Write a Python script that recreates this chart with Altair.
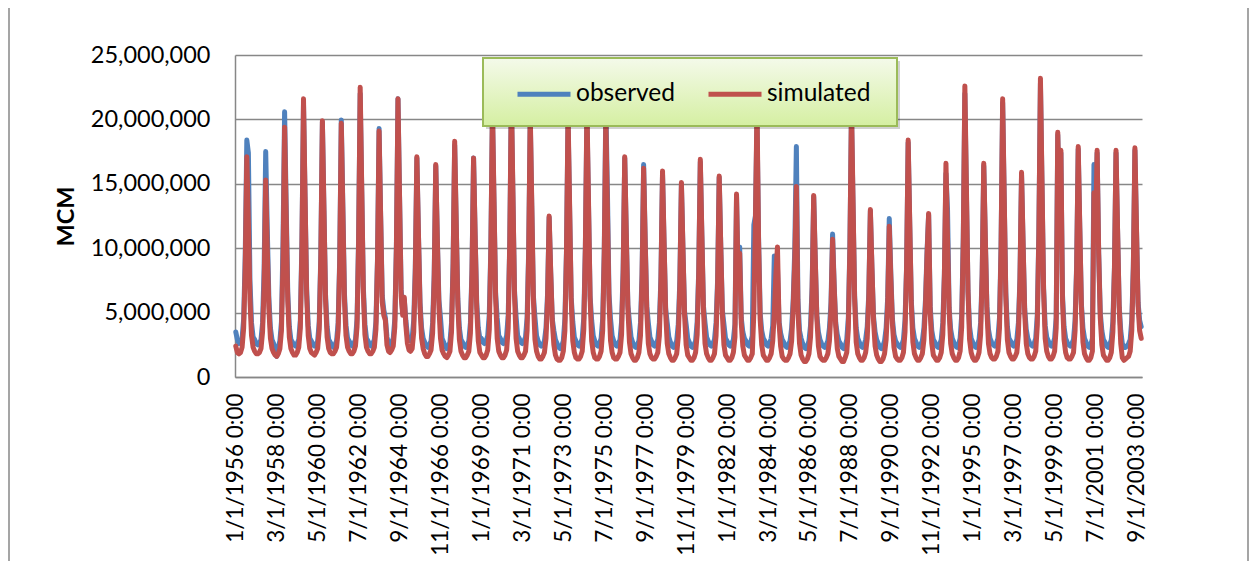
import altair as alt
import pandas as pd

FONT = "Lato"
START_YEAR = 1956

# Monthly volumes, millions (Jan..Dec), one row per year 1956-2003
observed_mcm = [
    [3.5, 2.9, 2.6, 2.7, 3.0, 4.5, 9.5, 18.4, 17.4, 7.5, 4.2, 3.1],
    [2.9, 2.6, 2.5, 2.6, 2.9, 4.2, 8.5, 17.5, 11.5, 6.2, 3.8, 2.9],
    [2.6, 2.2, 1.6, 2.3, 2.8, 4.3, 10.5, 20.6, 13.4, 6.6, 3.9, 2.9],
    [2.7, 2.5, 2.4, 2.6, 2.9, 4.4, 10.5, 21.2, 13.8, 6.8, 4.0, 3.0],
    [2.8, 2.5, 2.4, 2.5, 2.8, 4.3, 9.5, 19.8, 12.9, 6.4, 3.9, 2.9],
    [2.7, 2.4, 2.3, 2.5, 2.8, 4.2, 9.2, 19.95, 13.2, 6.5, 4.0, 3.0],
    [2.8, 2.5, 2.4, 2.6, 2.9, 4.5, 10.8, 22.0, 14.4, 7.0, 4.1, 3.0],
    [2.8, 2.5, 2.4, 2.6, 2.9, 4.3, 9.2, 19.3, 12.5, 6.3, 5.2, 4.6],
    [3.1, 2.6, 2.5, 2.7, 3.0, 4.5, 10.2, 21.6, 14.0, 6.8, 5.0, 6.0],
    [4.4, 3.2, 2.9, 2.8, 3.0, 4.4, 8.5, 17.0, 11.1, 5.8, 3.8, 3.0],
    [2.7, 2.4, 2.3, 2.5, 2.8, 4.2, 8.0, 16.4, 10.7, 6.0, 4.6, 3.0],
    [2.7, 2.4, 2.2, 2.4, 2.7, 4.2, 8.8, 18.0, 11.8, 6.1, 3.8, 2.9],
    [2.7, 2.4, 2.3, 2.5, 2.8, 4.2, 8.3, 17.0, 11.0, 5.8, 3.8, 3.0],
    [3.0, 2.7, 2.6, 2.8, 3.2, 4.9, 10.2, 20.5, 13.4, 6.5, 4.6, 3.2],
    [3.0, 2.7, 2.6, 2.8, 3.2, 4.8, 10.5, 21.5, 14.0, 6.7, 4.7, 3.2],
    [3.0, 2.7, 2.6, 2.8, 3.1, 4.6, 9.8, 20.0, 13.0, 6.3, 4.6, 3.2],
    [2.8, 2.5, 2.4, 2.5, 2.8, 3.8, 6.5, 12.4, 8.1, 4.5, 3.6, 2.9],
    [2.6, 2.3, 2.2, 2.4, 2.8, 4.5, 9.8, 20.0, 13.0, 6.2, 4.3, 3.1],
    [2.8, 2.5, 2.4, 2.6, 3.0, 4.6, 10.0, 20.5, 13.3, 6.3, 4.4, 3.2],
    [2.8, 2.5, 2.4, 2.6, 3.0, 4.5, 9.8, 21.0, 14.5, 6.5, 4.5, 3.2],
    [2.8, 2.5, 2.4, 2.6, 2.9, 4.3, 8.3, 17.0, 11.1, 5.6, 4.3, 3.1],
    [2.7, 2.4, 2.3, 2.5, 2.8, 4.2, 8.0, 16.5, 10.7, 5.5, 4.2, 3.1],
    [2.8, 2.5, 2.4, 2.6, 2.9, 4.2, 7.8, 15.8, 10.3, 5.3, 4.2, 3.1],
    [2.7, 2.4, 2.3, 2.5, 2.8, 4.1, 7.5, 15.0, 9.8, 5.1, 4.1, 3.0],
    [2.7, 2.4, 2.3, 2.5, 2.8, 4.3, 8.3, 16.7, 10.9, 5.5, 4.2, 3.1],
    [2.8, 2.5, 2.4, 2.6, 2.9, 4.2, 7.6, 15.5, 10.1, 5.2, 4.1, 3.0],
    [2.8, 2.5, 2.4, 2.6, 2.9, 4.1, 14.0, 7.8, 10.1, 4.6, 3.5, 3.0],
    [2.8, 2.5, 2.4, 2.7, 3.2, 11.8, 12.5, 20.0, 10.8, 5.0, 3.6, 3.0],
    [2.8, 2.5, 2.4, 2.6, 3.0, 4.0, 9.4, 9.0, 8.5, 4.3, 3.4, 2.9],
    [2.7, 2.4, 2.3, 2.5, 2.8, 3.8, 6.0, 10.0, 17.9, 6.0, 3.6, 3.0],
    [2.6, 2.3, 2.2, 2.4, 2.8, 4.0, 7.0, 14.0, 9.1, 4.8, 3.5, 2.9],
    [2.6, 2.4, 2.3, 2.5, 2.8, 3.8, 5.8, 11.1, 7.2, 4.2, 3.3, 2.8],
    [2.6, 2.3, 2.2, 2.4, 2.9, 4.6, 10.2, 20.5, 13.3, 6.3, 3.8, 3.0],
    [2.7, 2.4, 2.3, 2.5, 2.9, 3.9, 6.5, 12.9, 8.4, 4.7, 3.5, 2.9],
    [2.6, 2.3, 2.2, 2.4, 2.8, 3.8, 6.2, 12.3, 8.0, 4.5, 3.3, 2.8],
    [2.6, 2.4, 2.3, 2.5, 2.9, 4.4, 8.6, 18.2, 11.8, 5.9, 3.8, 3.0],
    [2.7, 2.4, 2.3, 2.5, 2.8, 3.8, 6.0, 9.8, 12.6, 5.5, 3.6, 2.9],
    [2.7, 2.4, 2.3, 2.5, 2.9, 4.2, 8.0, 15.8, 13.0, 5.4, 3.7, 3.0],
    [2.7, 2.4, 2.3, 2.5, 3.0, 4.8, 10.8, 22.0, 14.3, 6.7, 3.9, 3.0],
    [2.7, 2.4, 2.3, 2.5, 2.9, 4.2, 8.0, 16.4, 10.7, 5.5, 3.7, 3.0],
    [2.7, 2.5, 2.4, 2.6, 3.0, 4.6, 10.2, 21.3, 13.8, 6.6, 3.9, 3.0],
    [2.8, 2.5, 2.4, 2.6, 2.9, 4.2, 7.7, 15.7, 10.2, 5.3, 3.7, 3.0],
    [2.7, 2.5, 2.4, 2.6, 3.0, 4.8, 11.2, 22.8, 14.8, 6.9, 4.0, 3.1],
    [2.8, 2.5, 2.4, 2.6, 3.0, 4.6, 18.8, 13.2, 17.4, 6.4, 3.9, 3.0],
    [2.7, 2.5, 2.4, 2.6, 2.9, 4.4, 8.7, 17.7, 11.5, 5.7, 3.8, 3.0],
    [2.7, 2.4, 2.3, 2.5, 3.0, 16.5, 11.5, 17.4, 9.6, 5.0, 3.6, 2.9],
    [2.7, 2.4, 2.3, 2.5, 2.9, 4.3, 8.5, 17.4, 11.3, 5.6, 3.6, 2.6],
    [2.3, 2.3, 2.4, 2.6, 2.9, 4.4, 8.6, 17.6, 11.4, 5.8, 4.4, 3.9],
]

simulated_mcm = [
    [2.4, 1.9, 1.8, 1.9, 2.3, 3.8, 8.5, 17.1, 12.0, 6.0, 3.2, 2.3],
    [2.0, 1.8, 1.8, 1.9, 2.2, 3.5, 7.0, 15.3, 10.0, 5.3, 3.0, 2.2],
    [1.9, 1.7, 1.6, 1.8, 2.2, 3.6, 9.0, 19.4, 12.6, 5.9, 3.1, 2.2],
    [1.9, 1.7, 1.7, 1.9, 2.3, 3.8, 10.0, 21.6, 14.0, 6.4, 3.2, 2.2],
    [1.9, 1.8, 1.7, 1.9, 2.2, 3.7, 9.2, 19.9, 12.9, 6.0, 3.1, 2.2],
    [1.9, 1.8, 1.8, 2.0, 2.3, 3.6, 8.8, 19.7, 12.8, 6.0, 3.2, 2.3],
    [2.0, 1.8, 1.8, 2.0, 2.4, 3.9, 10.5, 22.5, 14.6, 6.6, 3.3, 2.3],
    [2.0, 1.8, 1.8, 2.0, 2.3, 3.7, 9.0, 19.1, 12.4, 5.8, 4.8, 4.4],
    [2.5, 2.0, 1.9, 2.1, 2.4, 3.9, 10.0, 21.6, 14.0, 6.3, 4.8, 6.2],
    [4.0, 2.6, 2.1, 2.0, 2.2, 3.5, 8.0, 17.1, 11.1, 5.4, 3.0, 2.2],
    [1.8, 1.6, 1.6, 1.8, 2.1, 3.4, 7.5, 16.5, 10.7, 5.4, 3.0, 2.1],
    [1.8, 1.6, 1.5, 1.7, 2.0, 3.5, 8.5, 18.3, 11.9, 5.6, 2.9, 2.0],
    [1.7, 1.5, 1.5, 1.7, 2.0, 3.4, 8.0, 17.0, 11.0, 5.3, 2.8, 1.9],
    [1.7, 1.5, 1.5, 1.7, 2.1, 3.7, 10.0, 21.0, 13.6, 6.2, 3.0, 2.0],
    [1.7, 1.5, 1.5, 1.7, 2.1, 3.8, 10.5, 22.0, 14.3, 6.4, 3.0, 2.0],
    [1.7, 1.5, 1.5, 1.7, 2.0, 3.6, 9.5, 20.5, 13.3, 6.0, 2.9, 2.0],
    [1.6, 1.4, 1.4, 1.6, 1.9, 3.0, 6.0, 12.5, 8.1, 4.3, 2.5, 1.7],
    [1.4, 1.3, 1.3, 1.5, 2.0, 3.6, 9.5, 20.5, 13.3, 6.0, 2.8, 1.9],
    [1.5, 1.4, 1.4, 1.6, 2.0, 3.7, 10.0, 21.0, 13.6, 6.1, 2.8, 1.9],
    [1.5, 1.4, 1.4, 1.6, 2.0, 3.6, 9.5, 20.0, 13.0, 5.9, 2.8, 1.9],
    [1.5, 1.4, 1.4, 1.6, 1.9, 3.3, 8.0, 17.1, 11.1, 5.3, 2.7, 1.8],
    [1.5, 1.3, 1.3, 1.5, 1.9, 3.2, 7.5, 16.2, 10.5, 5.1, 2.6, 1.8],
    [1.5, 1.4, 1.4, 1.6, 1.9, 3.2, 7.4, 16.0, 10.4, 5.0, 2.6, 1.8],
    [1.5, 1.3, 1.3, 1.5, 1.8, 3.1, 7.0, 15.1, 9.8, 4.8, 2.5, 1.7],
    [1.5, 1.3, 1.3, 1.5, 1.9, 3.3, 8.0, 16.9, 11.0, 5.2, 2.6, 1.8],
    [1.5, 1.3, 1.3, 1.5, 1.8, 3.2, 7.2, 15.6, 10.1, 4.9, 2.5, 1.7],
    [1.5, 1.3, 1.3, 1.5, 1.9, 3.1, 14.2, 7.5, 9.6, 4.2, 2.4, 1.7],
    [1.5, 1.3, 1.3, 1.5, 1.8, 5.0, 12.0, 21.0, 10.5, 4.5, 2.5, 1.7],
    [1.5, 1.3, 1.3, 1.5, 1.8, 2.8, 5.0, 8.0, 10.1, 4.2, 2.4, 1.6],
    [1.4, 1.3, 1.3, 1.5, 1.8, 2.8, 5.5, 9.0, 14.8, 5.2, 2.6, 1.7],
    [1.4, 1.2, 1.2, 1.4, 1.8, 3.1, 6.5, 14.1, 9.2, 4.6, 2.4, 1.6],
    [1.4, 1.3, 1.3, 1.5, 1.8, 2.8, 5.2, 10.7, 7.0, 3.9, 2.2, 1.6],
    [1.4, 1.2, 1.2, 1.5, 1.9, 3.7, 10.0, 21.0, 13.6, 6.1, 2.7, 1.8],
    [1.5, 1.3, 1.3, 1.5, 1.9, 3.0, 6.2, 13.0, 8.5, 4.4, 2.4, 1.7],
    [1.4, 1.2, 1.2, 1.4, 1.8, 2.9, 5.6, 11.7, 7.6, 4.1, 2.3, 1.6],
    [1.4, 1.3, 1.3, 1.5, 1.9, 3.5, 8.5, 18.4, 12.0, 5.6, 2.7, 1.8],
    [1.5, 1.3, 1.3, 1.5, 1.8, 2.9, 5.5, 9.5, 12.7, 5.0, 2.6, 1.7],
    [1.5, 1.3, 1.3, 1.5, 1.9, 3.3, 7.8, 16.6, 10.8, 5.2, 2.6, 1.8],
    [1.5, 1.3, 1.3, 1.5, 2.0, 3.9, 10.5, 22.6, 14.7, 6.6, 2.9, 1.9],
    [1.5, 1.3, 1.3, 1.5, 1.9, 3.3, 7.8, 16.6, 10.8, 5.2, 2.6, 1.8],
    [1.5, 1.4, 1.4, 1.6, 2.0, 3.8, 10.0, 21.6, 14.0, 6.3, 2.9, 1.9],
    [1.6, 1.4, 1.4, 1.6, 1.9, 3.3, 7.5, 15.9, 10.3, 5.0, 2.6, 1.8],
    [1.5, 1.4, 1.4, 1.6, 2.0, 4.0, 11.0, 23.2, 15.1, 6.8, 3.0, 2.0],
    [1.6, 1.4, 1.4, 1.6, 2.0, 3.8, 19.0, 13.0, 17.6, 6.0, 2.9, 1.9],
    [1.5, 1.4, 1.4, 1.6, 1.9, 3.6, 8.5, 17.9, 11.6, 5.5, 2.7, 1.8],
    [1.5, 1.3, 1.3, 1.5, 2.0, 14.3, 11.0, 17.6, 9.5, 4.6, 2.5, 1.7],
    [1.5, 1.3, 1.3, 1.5, 1.9, 3.5, 8.3, 17.6, 11.4, 5.4, 2.6, 1.5],
    [1.3, 1.4, 1.5, 1.6, 2.0, 3.6, 8.4, 17.8, 11.6, 5.5, 3.6, 3.0],
]

series_names = ["observed", "simulated"]
series_colors = ["#4F81BD", "#C0504D"]
y_ticks = [0, 5000000, 10000000, 15000000, 20000000, 25000000]
n_months = 12 * len(observed_mcm)
x_label_months = list(range(0, n_months, 26))  # 1/1/1956, 3/1/1958, ... 9/1/2003

rows = []
for name, table in zip(series_names, [observed_mcm, simulated_mcm]):
    for yi, yr in enumerate(table):
        for mi, v in enumerate(yr):
            rows.append({"m": yi * 12 + mi, "series": name, "value": v * 1_000_000})
df = pd.DataFrame(rows)

label_expr = (f"(datum.value % 12 + 1) + '/1/' + ({START_YEAR} + floor(datum.value / 12)) + ' 0:00'")

x_enc = alt.X(
    "m:Q",
    scale=alt.Scale(domain=[-0.5, n_months - 0.5], nice=False, zero=False),
    axis=alt.Axis(
        values=x_label_months, labelExpr=label_expr, labelAngle=-90, labelFlush=False,
        labelOverlap=False, labelFont=FONT, labelFontSize=22.5, labelColor="#000000",
        labelPadding=16, ticks=False, tickSize=0, grid=False, domain=True,
        domainColor="#878787", domainWidth=1.5, title=None,
    ),
)
y_enc = alt.Y(
    "value:Q",
    scale=alt.Scale(domain=[0, 25000000], nice=False),
    axis=alt.Axis(
        values=y_ticks, format=",d", labelFont=FONT, labelFontSize=23.5, labelColor="#000000",
        labelPadding=25, ticks=False, tickSize=0, grid=True, gridColor="#878787", gridWidth=1.5,
        domain=True, domainColor="#878787", domainWidth=1.5,
        title="MCM", titleFont=FONT, titleFontSize=23.5, titleFontWeight="bold",
        titleColor="#000000", titleX=-169, titleY=161, titleAngle=270,
        titleAlign="center", titleBaseline="middle",
    ),
)
color_enc = alt.Color(
    "series:N",
    scale=alt.Scale(domain=series_names, range=series_colors),
    legend=alt.Legend(
        title=None, orient="none", legendX=280, legendY=10, direction="horizontal",
        symbolType="stroke", symbolSize=2809, symbolStrokeWidth=5,
        labelFont=FONT, labelFontSize=24.5, labelColor="#000000", labelOffset=3,
        columnPadding=22, padding=0,
    ),
)

base = alt.Chart(df)
obs_line = base.transform_filter(alt.datum.series == "observed").mark_line(
    strokeWidth=5, strokeJoin="round", strokeCap="round"
).encode(x=x_enc, y=y_enc, color=color_enc)
sim_line = base.transform_filter(alt.datum.series == "simulated").mark_line(
    strokeWidth=5, strokeJoin="round", strokeCap="round"
).encode(x=x_enc, y=y_enc, color=color_enc)

one = pd.DataFrame({"k": [0]})
shadow = alt.Chart(one).mark_rect(fill="#000000", opacity=0.18).encode(
    x=alt.value(251), x2=alt.value(665), y=alt.value(6), y2=alt.value(74)
)
box = alt.Chart(one).mark_rect(
    fill=alt.Gradient(
        gradient="linear",
        stops=[alt.GradientStop(color="#F4FAEA", offset=0), alt.GradientStop(color="#D5EFA2", offset=1)],
        x1=0, x2=0, y1=0, y2=1,
    ),
    stroke="#9BBB59", strokeWidth=2,
).encode(x=alt.value(248), x2=alt.value(662), y=alt.value(3), y2=alt.value(71))
frame_left = alt.Chart(one).mark_rule(color="#878787", strokeWidth=1.5).encode(
    x=alt.value(-226), y=alt.value(-47), y2=alt.value(506)
)
frame_right = alt.Chart(one).mark_rule(color="#878787", strokeWidth=1.5).encode(
    x=alt.value(1013), y=alt.value(-47), y2=alt.value(506)
)

chart = alt.layer(obs_line, sim_line, shadow, box, frame_left, frame_right).properties(
    width=907, height=322,
    autosize=alt.AutoSizeParams(type="none"),
    padding={"left": 227, "top": 47, "right": 107, "bottom": 184},
    background="#FFFFFF",
).configure_view(strokeWidth=0)

chart.save("out.html", embed_options={"renderer": "svg", "actions": False})
